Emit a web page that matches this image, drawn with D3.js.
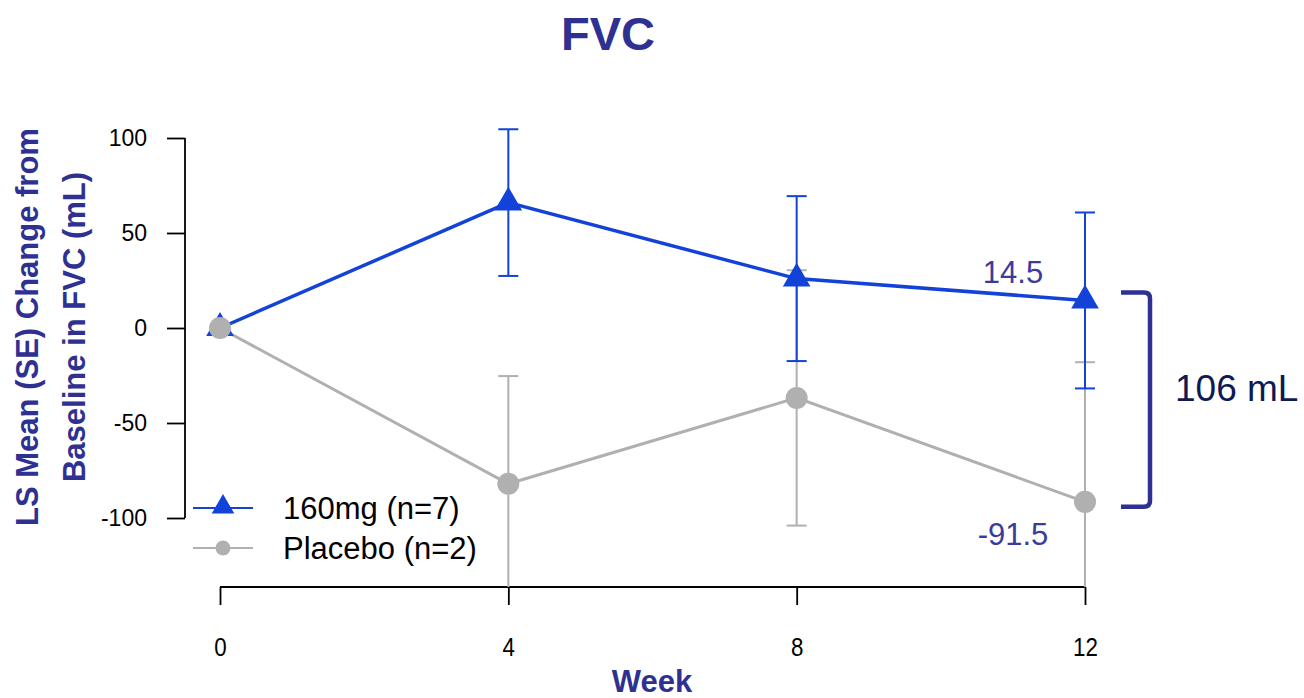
<!DOCTYPE html>
<html>
<head>
<meta charset="utf-8">
<script src="https://cdn.jsdelivr.net/npm/d3@7"></script>
<style>
  body { margin: 0; background: #fff; }
  svg { font-family: Arial, "Liberation Sans", sans-serif; }
</style>
</head>
<body>
<div id="chart"></div>
<script>
// data
var weeks = [0, 4, 8, 12];
var yTicks = [-100, -50, 0, 50, 100];
var activeMean = [0, 66, 26, 14.5];
var activeSE = [0, 38.6, 43.4, 46.3];
var placeboMean = [0, -82, -36.8, -91.5];
var placeboSE = [0, 56.7, 67.2, 73.5];
var seriesNames = ["160mg (n=7)", "Placebo (n=2)"];
var diffLabel = "106 mL";

// size
var W = 1304, H = 698;
var blue = "#1342d8", grey = "#b0b0b0", navy = "#2e3192";
var fontFam = "Arial, 'Liberation Sans', sans-serif";

var svg = d3.select("#chart").append("svg").attr("width", W).attr("height", H);

var x = d3.scaleLinear().domain([0, 12]).range([220, 1085]);
var y = d3.scaleLinear().domain([-100, 100]).range([518, 138]);
var xAxisY = 587;

// title
svg.append("text").attr("x", 608).attr("y", 50).attr("text-anchor", "middle")
    .attr("font-size", 47).attr("font-weight", "bold").attr("fill", navy).text("FVC");

// y axis
var yAxis = svg.append("g").attr("transform", "translate(185,0)")
    .call(d3.axisLeft(y).tickValues(yTicks).tickSize(18).tickPadding(20).tickFormat(function (d) { return String(d); }));
yAxis.attr("font-size", 23).attr("font-family", fontFam);
yAxis.selectAll("text").attr("fill", "#000");
yAxis.selectAll("line, path").attr("stroke", "#000").attr("stroke-width", 1.8);
yAxis.select(".domain").attr("d", "M0," + y(100) + "V" + y(-100));

// x axis (labels slightly condensed like the original)
var xAxis = svg.append("g").attr("transform", "translate(0," + xAxisY + ")")
    .call(d3.axisBottom(x).tickValues(weeks).tickSize(18).tickPadding(33).tickFormat(function (d) { return String(d); }));
xAxis.attr("font-size", 26).attr("font-family", fontFam);
xAxis.selectAll("text").attr("fill", "#000").attr("transform", "scale(0.86,1)");
xAxis.selectAll("line, path").attr("stroke", "#000").attr("stroke-width", 1.8);
xAxis.select(".domain").attr("d", "M" + x(0) + ",0H" + x(12));

// axis titles
svg.append("text").attr("x", 652).attr("y", 692).attr("text-anchor", "middle")
    .attr("font-size", 31).attr("font-weight", "bold").attr("fill", navy).text("Week");
var yt = svg.append("text").attr("transform", "translate(0,327) rotate(-90)")
    .attr("text-anchor", "middle").attr("font-size", 31).attr("font-weight", "bold").attr("fill", navy);
yt.append("tspan").attr("x", 0).attr("y", 38).text("LS Mean (SE) Change from");
yt.append("tspan").attr("x", 0).attr("y", 85).text("Baseline in FVC (mL)");

// plot area clipped at x axis
svg.append("clipPath").attr("id", "clip").append("rect")
    .attr("x", 190).attr("y", 0).attr("width", 1000).attr("height", xAxisY);
var plot = svg.append("g").attr("clip-path", "url(#clip)");

var line = d3.line().x(function (d) { return x(d.w); }).y(function (d) { return y(d.v); });
function rows(means, ses) {
    return weeks.map(function (w, i) { return { w: w, v: means[i], se: ses[i] }; });
}
var act = rows(activeMean, activeSE), pla = rows(placeboMean, placeboSE);
var tri = d3.symbol().type(d3.symbolTriangle).size(330);

function errorBars(data, color) {
    var g = plot.append("g").attr("stroke", color).attr("stroke-width", 2);
    data.filter(function (d) { return d.se > 0; }).forEach(function (d) {
        var cx = x(d.w), t = y(d.v + d.se), b = y(d.v - d.se);
        g.append("line").attr("x1", cx).attr("x2", cx).attr("y1", t).attr("y2", b);
        g.append("line").attr("x1", cx - 10).attr("x2", cx + 10).attr("y1", t).attr("y2", t);
        g.append("line").attr("x1", cx - 10).attr("x2", cx + 10).attr("y1", b).attr("y2", b);
    });
}

// placebo
errorBars(pla, grey);
plot.append("path").datum(pla).attr("d", line).attr("fill", "none").attr("stroke", grey).attr("stroke-width", 3);
// 160mg
errorBars(act, blue);
plot.append("path").datum(act).attr("d", line).attr("fill", "none").attr("stroke", blue).attr("stroke-width", 3.5);
plot.selectAll(".tri").data(act).enter().append("path").attr("class", "tri")
    .attr("d", tri)
    .attr("transform", function (d) { return "translate(" + x(d.w) + "," + y(d.v) + ")"; })
    .attr("fill", blue);
plot.selectAll(".dot").data(pla).enter().append("circle").attr("class", "dot")
    .attr("cx", function (d) { return x(d.w); }).attr("cy", function (d) { return y(d.v); })
    .attr("r", 11).attr("fill", grey);

// value labels
svg.append("text").attr("x", 1013).attr("y", 283).attr("text-anchor", "middle")
    .attr("font-size", 31).attr("fill", "#3b3b9b").text(String(activeMean[3]));
svg.append("text").attr("x", 1013).attr("y", 545).attr("text-anchor", "middle")
    .attr("font-size", 31).attr("fill", "#3b3b9b").text(String(placeboMean[3]));

// bracket
var bt = y(activeMean[3]) - 8, bb = y(placeboMean[3]) + 5;
svg.append("path")
    .attr("d", "M1121," + bt + "L1144," + bt + "Q1150," + bt + " 1150," + (bt + 6) +
        "L1150," + (bb - 6) + "Q1150," + bb + " 1144," + bb + "L1121," + bb)
    .attr("fill", "none").attr("stroke", navy).attr("stroke-width", 4.5);
svg.append("text").attr("x", 1175).attr("y", 401).attr("font-size", 37)
    .attr("fill", "#0d1a55").text(diffLabel);

// legend
var leg = svg.append("g");
[{ c: blue, y: 508, s: "tri" }, { c: grey, y: 548, s: "dot" }].forEach(function (l, i) {
    leg.append("line").attr("x1", 193).attr("x2", 253).attr("y1", l.y).attr("y2", l.y)
        .attr("stroke", l.c).attr("stroke-width", 2);
    if (l.s === "tri") {
        leg.append("path").attr("d", d3.symbol().type(d3.symbolTriangle).size(220)())
            .attr("transform", "translate(223," + (l.y - 1) + ")").attr("fill", l.c);
    } else {
        leg.append("circle").attr("cx", 223).attr("cy", l.y).attr("r", 7.5).attr("fill", l.c);
    }
    leg.append("text").attr("x", 283).attr("y", l.y + 11).attr("font-size", 31).attr("fill", "#000")
        .text(seriesNames[i]);
});
</script>
</body>
</html>
